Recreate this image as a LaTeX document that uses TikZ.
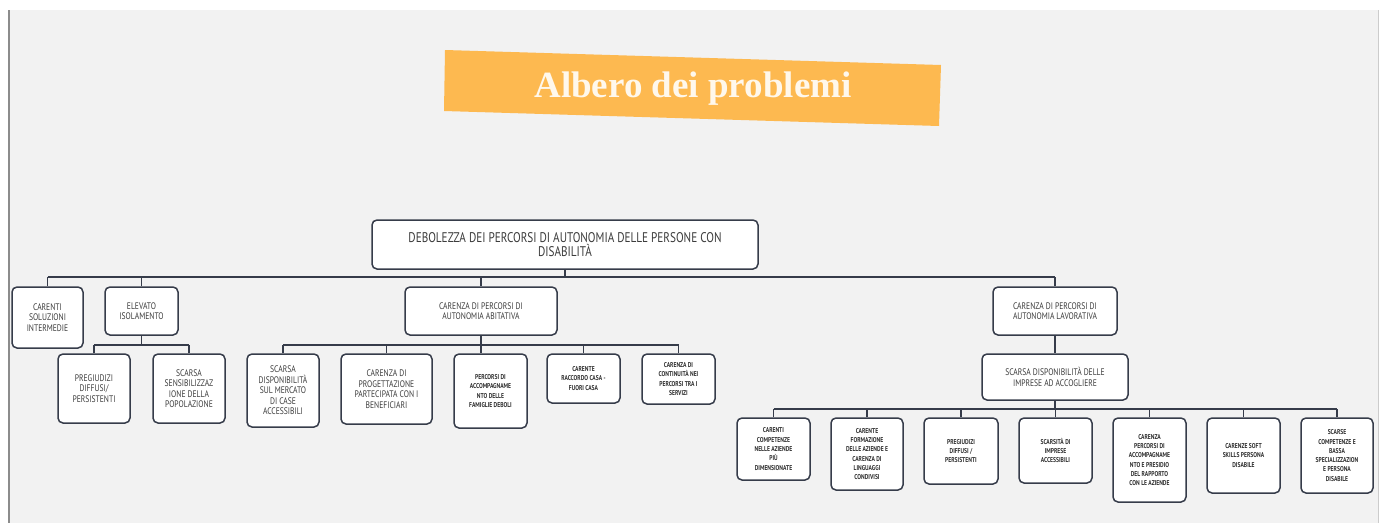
\documentclass[tikz,border=0pt]{standalone}
\usepackage{fontspec}
\setmainfont{PT Sans}
\newfontfamily\hand[FakeStretch=0.8]{PT Sans}
\newfontfamily\titlefont{Liberation Serif}
\definecolor{bgc}{HTML}{F2F2F2}
\definecolor{edge}{HTML}{363C4A}
\definecolor{txt}{HTML}{3C3C3C}
\definecolor{txtd}{HTML}{2E2E2E}
\definecolor{banner}{HTML}{FDB950}
\definecolor{titletxt}{HTML}{FFF8EC}
\tikzset{
  box/.style={draw=edge, line width=1.5pt, rounded corners=5pt, fill=white,
    inner sep=1pt, align=center, text=txt, font=\hand\fontsize{9.5}{10.5}\selectfont},
  rootbox/.style={box, font=\hand\fontsize{14}{14}\selectfont},
  small/.style={box, text=txtd, font=\hand\bfseries\fontsize{7}{9.3}\selectfont},
  conn/.style={draw=edge, line width=1.5pt}
}
\begin{document}
\begin{tikzpicture}[x=1pt,y=-1pt]
\useasboundingbox (0,0) rectangle (1382,523);
\fill[white] (0,0) rectangle (1382,523);
\fill[bgc] (10,10) rectangle (1378,523);
\draw[line width=2.5pt, black!45] (9,10) -- (9,523);
\draw[line width=0.8pt, black!20] (1378,10) -- (1378,523);

% title banner
\fill[banner] (445,50) -- (941,65) -- (939,126) -- (444,111) -- cycle;
\node[anchor=base, text=titletxt, inner sep=0, font=\titlefont\bfseries\fontsize{37}{37}\selectfont] (title) at (693,97) {Albero dei problemi};

% bars
\coordinate (top) at (0,277);
\coordinate (ebar) at (0,345);
\coordinate (abar) at (0,345);
\coordinate (bbar) at (0,409);

% root
\node[rootbox, minimum width=386, minimum height=49] (root) at (565,244.5)
  {DEBOLEZZA DEI PERCORSI DI AUTONOMIA DELLE PERSONE CON\\DISABILITÀ};

% level 1
\node[box, minimum width=71, minimum height=61] (n1) at (47.5,317.5) {CARENTI\\SOLUZIONI\\INTERMEDIE};
\node[box, minimum width=73, minimum height=48] (n2) at (141.5,311) {ELEVATO\\ISOLAMENTO};
\node[box, minimum width=152, minimum height=48] (n3) at (481,311) {CARENZA DI PERCORSI DI\\AUTONOMIA ABITATIVA};
\node[box, minimum width=124, minimum height=48] (n4) at (1055,311) {CARENZA DI PERCORSI DI\\AUTONOMIA LAVORATIVA};

% children of ELEVATO
\node[box, minimum width=72, minimum height=69] (n21) at (94,388.5) {PREGIUDIZI\\DIFFUSI/\\PERSISTENTI};
\node[box, minimum width=72, minimum height=69] (n22) at (189,388.5) {SCARSA\\SENSIBILIZZAZ\\IONE DELLA\\POPOLAZIONE};

% children of abitativa
\node[box, minimum width=72, minimum height=73] (n31) at (283,390.5) {SCARSA\\DISPONIBILITÀ\\SUL MERCATO\\DI CASE\\ACCESSIBILI};
\node[box, minimum width=91, minimum height=70] (n32) at (386.5,389) {CARENZA DI\\PROGETTAZIONE\\PARTECIPATA CON I\\BENEFICIARI};
\node[small, minimum width=73, minimum height=74] (n33) at (490.5,391) {PERCORSI DI\\ACCOMPAGNAME\\NTO DELLE\\FAMIGLIE DEBOLI};
\node[small, minimum width=73, minimum height=49] (n34) at (583.5,378.5) {CARENTE\\RACCORDO CASA -\\FUORI CASA};
\node[small, minimum width=73, minimum height=50] (n35) at (678.5,379) {CARENZA DI\\CONTINUITÀ NEI\\PERCORSI TRA I\\SERVIZI};

% lavorativa chain
\node[box, minimum width=146, minimum height=46] (n41) at (1055,377) {SCARSA DISPONIBILITÀ DELLE\\IMPRESE AD ACCOGLIERE};

\node[small, minimum width=73, minimum height=62] (b1) at (773.5,449) {CARENTI\\COMPETENZE\\NELLE AZIENDE\\PIÙ\\DIMENSIONATE};
\node[small, minimum width=72, minimum height=72] (b2) at (867,454) {CARENTE\\FORMAZIONE\\DELLE AZIENDE E\\CARENZA DI\\LINGUAGGI\\CONDIVISI};
\node[small, minimum width=74, minimum height=66] (b3) at (961,451) {PREGIUDIZI\\DIFFUSI /\\PERSISTENTI};
\node[small, minimum width=73, minimum height=65] (b4) at (1055.5,450.5) {SCARSITÀ DI\\IMPRESE\\ACCESSIBILI};
\node[small, minimum width=73, minimum height=84] (b5) at (1149.5,460) {CARENZA\\PERCORSI DI\\ACCOMPAGNAME\\NTO E PRESIDIO\\DEL RAPPORTO\\CON LE AZIENDE};
\node[small, minimum width=73, minimum height=75] (b6) at (1243.5,455.5) {CARENZE SOFT\\SKILLS PERSONA\\DISABILE};
\node[small, minimum width=72, minimum height=75] (b7) at (1337,455.5) {SCARSE\\COMPETENZE E\\BASSA\\SPECIALIZZAZION\\E PERSONA\\DISABILE};

% connectors: root level
\draw[conn] (root.south) -- (root.south |- top);
\draw[conn] (n1.north |- top) -- (n4.north |- top);
\foreach \n in {n1,n2,n3,n4} \draw[conn] (\n.north) -- (\n.north |- top);

% ELEVATO
\draw[conn] (n2.south) -- (n2.south |- ebar);
\draw[conn] (n21.north |- ebar) -- (n22.north |- ebar);
\foreach \n in {n21,n22} \draw[conn] (\n.north) -- (\n.north |- ebar);

% abitativa
\draw[conn] (n3.south) -- (n3.south |- n33.north);
\draw[conn] (n31.north |- abar) -- (n35.north |- abar);
\foreach \n in {n31,n32,n34,n35} \draw[conn] (\n.north) -- (\n.north |- abar);

% lavorativa
\draw[conn] (n4.south) -- (n41.north);
\draw[conn] (n41.south) -- (n41.south |- bbar);
\draw[conn] (b1.north |- bbar) -- (b7.north |- bbar);
\foreach \n in {b1,b2,b3,b4,b5,b6,b7} \draw[conn] (\n.north) -- (\n.north |- bbar);
\end{tikzpicture}
\end{document}
